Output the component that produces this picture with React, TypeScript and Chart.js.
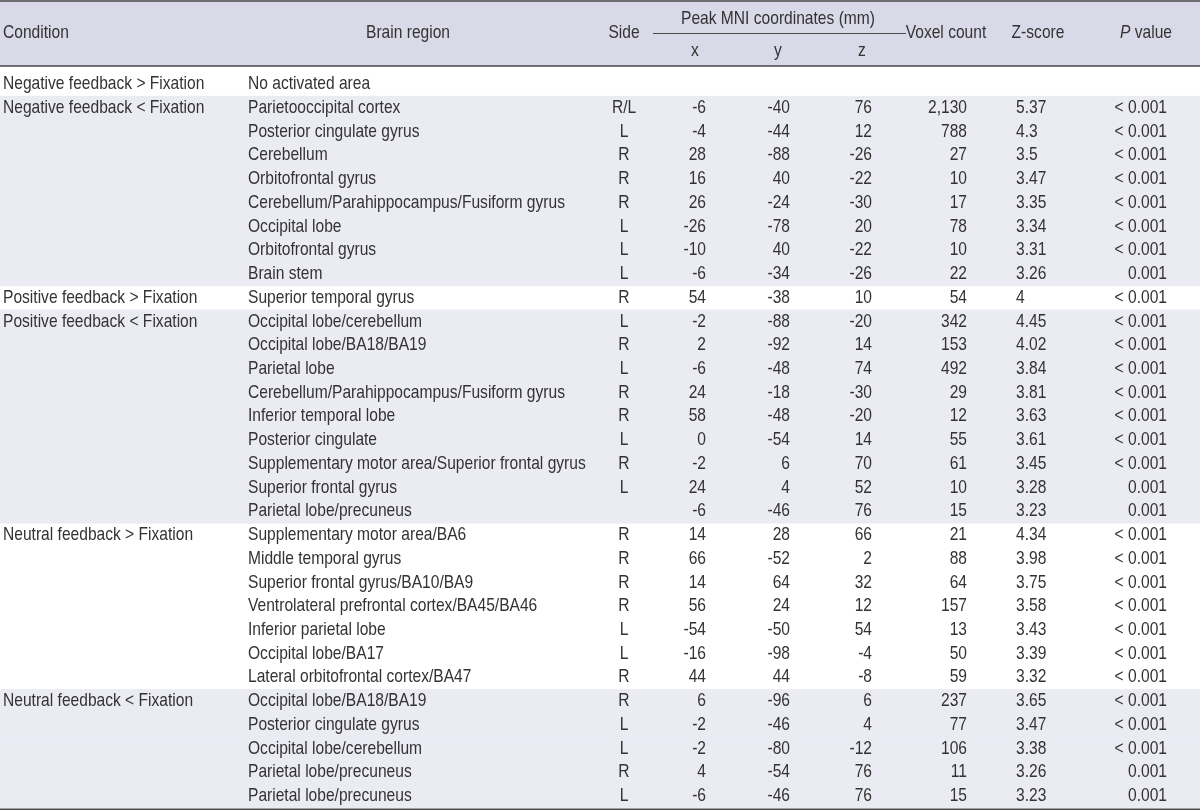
import React, { useEffect, useRef } from "react";
import { Chart, registerables } from "chart.js";

Chart.register(...registerables);

// ---------------- DATA ----------------
const conditions = [
  "Negative feedback > Fixation",
  "Negative feedback < Fixation",
  "Positive feedback > Fixation",
  "Positive feedback < Fixation",
  "Neutral feedback > Fixation",
  "Neutral feedback < Fixation",
];
const conditionRowCounts = [1, 8, 1, 9, 7, 5];
const shadedGroups = [false, true, false, true, false, true];

const regions = [
  "No activated area",
  "Parietooccipital cortex",
  "Posterior cingulate gyrus",
  "Cerebellum",
  "Orbitofrontal gyrus",
  "Cerebellum/Parahippocampus/Fusiform gyrus",
  "Occipital lobe",
  "Orbitofrontal gyrus",
  "Brain stem",
  "Superior temporal gyrus",
  "Occipital lobe/cerebellum",
  "Occipital lobe/BA18/BA19",
  "Parietal lobe",
  "Cerebellum/Parahippocampus/Fusiform gyrus",
  "Inferior temporal lobe",
  "Posterior cingulate",
  "Supplementary motor area/Superior frontal gyrus",
  "Superior frontal gyrus",
  "Parietal lobe/precuneus",
  "Supplementary motor area/BA6",
  "Middle temporal gyrus",
  "Superior frontal gyrus/BA10/BA9",
  "Ventrolateral prefrontal cortex/BA45/BA46",
  "Inferior parietal lobe",
  "Occipital lobe/BA17",
  "Lateral orbitofrontal cortex/BA47",
  "Occipital lobe/BA18/BA19",
  "Posterior cingulate gyrus",
  "Occipital lobe/cerebellum",
  "Parietal lobe/precuneus",
  "Parietal lobe/precuneus",
];
const sides = [
  "", "R/L", "L", "R", "R", "R", "L", "L", "L",
  "R",
  "L", "R", "L", "R", "R", "L", "R", "L", "",
  "R", "R", "R", "R", "L", "L", "R",
  "R", "L", "L", "R", "L",
];
const peakX = [
  null, -6, -4, 28, 16, 26, -26, -10, -6,
  54,
  -2, 2, -6, 24, 58, 0, -2, 24, -6,
  14, 66, 14, 56, -54, -16, 44,
  6, -2, -2, 4, -6,
];
const peakY = [
  null, -40, -44, -88, 40, -24, -78, 40, -34,
  -38,
  -88, -92, -48, -18, -48, -54, 6, 4, -46,
  28, -52, 64, 24, -50, -98, 44,
  -96, -46, -80, -54, -46,
];
const peakZ = [
  null, 76, 12, -26, -22, -30, 20, -22, -26,
  10,
  -20, 14, 74, -30, -20, 14, 70, 52, 76,
  66, 2, 32, 12, 54, -4, -8,
  6, 4, -12, 76, 76,
];
const voxelCounts = [
  null, 2130, 788, 27, 10, 17, 78, 10, 22,
  54,
  342, 153, 492, 29, 12, 55, 61, 10, 15,
  21, 88, 64, 157, 13, 50, 59,
  237, 77, 106, 11, 15,
];
const zScores = [
  null, 5.37, 4.3, 3.5, 3.47, 3.35, 3.34, 3.31, 3.26,
  4,
  4.45, 4.02, 3.84, 3.81, 3.63, 3.61, 3.45, 3.28, 3.23,
  4.34, 3.98, 3.75, 3.58, 3.43, 3.39, 3.32,
  3.65, 3.47, 3.38, 3.26, 3.23,
];
const pValues = [
  "", "< 0.001", "< 0.001", "< 0.001", "< 0.001", "< 0.001", "< 0.001", "< 0.001", "0.001",
  "< 0.001",
  "< 0.001", "< 0.001", "< 0.001", "< 0.001", "< 0.001", "< 0.001", "< 0.001", "0.001", "0.001",
  "< 0.001", "< 0.001", "< 0.001", "< 0.001", "< 0.001", "< 0.001", "< 0.001",
  "< 0.001", "< 0.001", "< 0.001", "0.001", "0.001",
];
const headerLabels = ["Condition", "Brain region", "Side", "Voxel count", "Z-score"];
const mniHeader = "Peak MNI coordinates (mm)";
const mniAxes = ["x", "y", "z"];

// ---------------- STYLE / LAYOUT ----------------
const W = 1200;
const H = 812;
const ROW_H = 23.73;
const FIRST_ROW_PX = 84;
const FAMILY = '"Liberation Sans", Arial, sans-serif';
const FONT = "19px " + FAMILY;
const FONT_I = "italic 19px " + FAMILY;
const SX = 0.82; // horizontal condensing to mimic a narrow face
const TEXT = "#333333";
const HEADER_BG = "#d9d9e8";
const SHADE_BG = "#ebebf4";
const RULE = "#4a4a4a";

type Col = { x: number; align: CanvasTextAlign };
const COL = {
  condition: { x: 3, align: "left" } as Col,
  region: { x: 248, align: "left" } as Col,
  side: { x: 624, align: "center" } as Col,
  px: { x: 706, align: "right" } as Col,
  py: { x: 790, align: "right" } as Col,
  pz: { x: 872, align: "right" } as Col,
  voxel: { x: 967, align: "right" } as Col,
  z: { x: 1016, align: "left" } as Col,
  p: { x: 1167, align: "right" } as Col,
};
const HEAD = {
  condition: { x: 3, align: "left" } as Col,
  region: { x: 408, align: "center" } as Col,
  side: { x: 624, align: "center" } as Col,
  voxel: { x: 946, align: "center" } as Col,
  z: { x: 1038, align: "center" } as Col,
  p: 1146,
  mni: 778,
  mniAxesX: [695, 778, 862],
  mniLine: [653, 906],
};
const HEAD_Y = { top: 1, mni: 19, main: 33, axes: 51, bottom: 66 };

const fmtNum = (v: number | null) => (v === null ? "" : String(v));
const fmtVox = (v: number | null) => (v === null ? "" : v.toLocaleString("en-US"));

function drawText(ctx: CanvasRenderingContext2D, t: string, x: number, y: number, align: CanvasTextAlign, font = FONT) {
  ctx.save();
  ctx.font = font;
  ctx.textAlign = align;
  ctx.textBaseline = "middle";
  ctx.translate(x, y);
  ctx.scale(SX, 1);
  ctx.fillText(t, 0, 0);
  ctx.restore();
}
function textW(ctx: CanvasRenderingContext2D, t: string, font = FONT) {
  ctx.save();
  ctx.font = font;
  const w = ctx.measureText(t).width * SX;
  ctx.restore();
  return w;
}

export default function App() {
  const ref = useRef<HTMLCanvasElement | null>(null);

  useEffect(() => {
    document.body.style.margin = "0";
    const canvas = ref.current;
    if (!canvas) return;

    const nRows = regions.length;
    const rowIdx = regions.map((_, i) => i);
    const yMin = -FIRST_ROW_PX / ROW_H;
    const yMax = (H - FIRST_ROW_PX) / ROW_H;

    const condByRow: string[] = new Array(nRows).fill("");
    const shadeByRow: boolean[] = new Array(nRows).fill(false);
    let r = 0;
    conditionRowCounts.forEach((cnt, g) => {
      condByRow[r] = conditions[g];
      for (let k = 0; k < cnt; k++) shadeByRow[r + k] = shadedGroups[g];
      r += cnt;
    });

    const columns: { col: Col; texts: string[] }[] = [
      { col: COL.condition, texts: condByRow },
      { col: COL.region, texts: regions },
      { col: COL.side, texts: sides },
      { col: COL.px, texts: peakX.map(fmtNum) },
      { col: COL.py, texts: peakY.map(fmtNum) },
      { col: COL.pz, texts: peakZ.map(fmtNum) },
      { col: COL.voxel, texts: voxelCounts.map(fmtVox) },
      { col: COL.z, texts: zScores.map(fmtNum) },
      { col: COL.p, texts: pValues },
    ];

    const tablePlugin = {
      id: "tablePlugin",
      beforeDraw(chart: any) {
        const { ctx } = chart;
        const ys = chart.scales.y;
        ctx.save();
        ctx.fillStyle = "#ffffff";
        ctx.fillRect(0, 0, W, H);
        ctx.fillStyle = HEADER_BG;
        ctx.fillRect(0, 0, W, HEAD_Y.bottom);
        ctx.fillStyle = SHADE_BG;
        rowIdx.forEach((i) => {
          if (!shadeByRow[i]) return;
          const top = ys.getPixelForValue(i - 0.5);
          const bot = ys.getPixelForValue(i + 0.5);
          ctx.fillRect(0, top, W, bot - top + 0.5);
        });
        ctx.restore();
      },
      afterDraw(chart: any) {
        const { ctx } = chart;
        const xs = chart.scales.x;
        const ys = chart.scales.y;
        ctx.save();
        ctx.fillStyle = TEXT;

        const hy = HEAD_Y;
        const head = [HEAD.condition, HEAD.region, HEAD.side, HEAD.voxel, HEAD.z];
        head.forEach((c, i) => {
          drawText(ctx, headerLabels[i], xs.getPixelForValue(c.x), hy.main, c.align);
        });
        const pW = textW(ctx, "P", FONT_I);
        const vW = textW(ctx, " value");
        const pStart = xs.getPixelForValue(HEAD.p) - (pW + vW) / 2;
        drawText(ctx, "P", pStart, hy.main, "left", FONT_I);
        drawText(ctx, " value", pStart + pW, hy.main, "left");

        drawText(ctx, mniHeader, xs.getPixelForValue(HEAD.mni), hy.mni, "center");
        mniAxes.forEach((a, i) => {
          drawText(ctx, a, xs.getPixelForValue(HEAD.mniAxesX[i]), hy.axes, "center");
        });

        ctx.strokeStyle = RULE;
        ctx.lineWidth = 1;
        ctx.beginPath();
        ctx.moveTo(xs.getPixelForValue(HEAD.mniLine[0]), hy.main + 0.5);
        ctx.lineTo(xs.getPixelForValue(HEAD.mniLine[1]), hy.main + 0.5);
        ctx.stroke();
        ctx.lineWidth = 1.5;
        ctx.beginPath();
        ctx.moveTo(0, hy.top);
        ctx.lineTo(W, hy.top);
        ctx.moveTo(0, hy.bottom);
        ctx.lineTo(W, hy.bottom);
        const lastBottom = ys.getPixelForValue(nRows - 0.5) + 1.5;
        ctx.moveTo(0, lastBottom);
        ctx.lineTo(W, lastBottom);
        ctx.stroke();

        columns.forEach(({ col, texts }) => {
          const px = xs.getPixelForValue(col.x);
          texts.forEach((t, i) => {
            if (!t) return;
            drawText(ctx, t, px, ys.getPixelForValue(i), col.align);
          });
        });
        ctx.restore();
      },
    };

    const chart = new Chart(canvas, {
      type: "scatter",
      data: {
        datasets: columns.map(({ col, texts }, k) => ({
          label: "col" + k,
          data: rowIdx.filter((i) => texts[i]).map((i) => ({ x: col.x, y: i })),
          pointRadius: 0,
          pointHoverRadius: 0,
        })),
      },
      options: {
        animation: false,
        responsive: false,
        maintainAspectRatio: false,
        events: [],
        layout: { padding: 0 },
        plugins: { legend: { display: false }, tooltip: { enabled: false } },
        scales: {
          x: { type: "linear", min: 0, max: W, display: false },
          y: { type: "linear", min: yMin, max: yMax, reverse: true, display: false },
        },
      },
      plugins: [tablePlugin],
    });

    return () => chart.destroy();
  }, []);

  return <canvas ref={ref} width={W} height={H} style={{ display: "block" }} />;
}
